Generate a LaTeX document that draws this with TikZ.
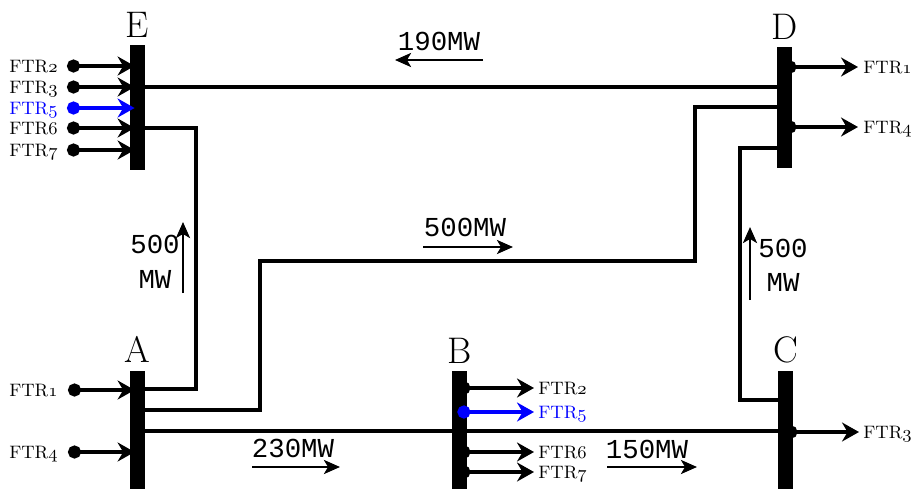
\documentclass[tikz,border=0pt]{standalone}
\usepackage{fontspec}
\usetikzlibrary{arrows.meta,calc}
\newfontfamily\mwfont{Liberation Mono}
\newcommand{\osn}[1]{{\usefont{OML}{cmm}{m}{it}#1}}
\tikzset{
  bus/.style={fill=black, inner sep=0pt, minimum width=7.5pt},
  busname/.style={font=\fontsize{18.5}{20}\selectfont, inner sep=0pt, label distance=3.5pt},
  link/.style={line width=2pt},
  ftrlab/.style={font=\fontsize{9}{10}\selectfont, inner sep=0pt, text height=6.2pt, text depth=0pt},
  ftrarrow/.style={line width=2pt, {Circle[length=6.5pt]}-{Stealth[length=8.5pt,width=9.5pt,inset=2.8pt]}},
  mw/.style={font=\mwfont\fontsize{13.7}{15}\selectfont, inner sep=0pt, anchor=base},
  flow/.style={line width=1.3pt, -{Stealth[length=8pt,width=7pt,inset=2pt]}},
}

\begin{document}
\begin{tikzpicture}[x=0.5pt, y=-0.5pt]
  \useasboundingbox (0,0) rectangle (911,488);
  % buses
  \node[bus, minimum height=62.5pt, label={[busname]above:E}] (E) at (137.5,107.5) {};
  \node[bus, minimum height=60.5pt, label={[busname]above:D}] (D) at (784.5,107.5) {};
  \node[bus, minimum height=59pt, label={[busname]above:A}] (A) at (137.5,429.5) {};
  \node[bus, minimum height=59pt, label={[busname]above:B}] (B) at (459.5,430) {};
  \node[bus, minimum height=59pt, label={[busname]above:C}] (C) at (785.5,430) {};
  % lines between buses
  \draw[link] (E.east |- 0,87) -- (D.west |- 0,87);
  \draw[link] (E.east |- 0,128) -- (196,128) -- (196,389) -- (A.east |- 0,389);
  \draw[link] (A.east |- 0,410) -- (260,410) -- (260,261) -- (695,261) -- (695,107) -- (D.west |- 0,107);
  \draw[link] (D.west |- 0,148) -- (740,148) -- (740,400) -- (C.west |- 0,400);
  \draw[link] (A.east |- 0,431) -- (C.west |- 0,431);
  % FTRs into E and A
  \foreach \y/\n/\col in {66/2/black,87/3/black,108/5/blue,128/6/black,150/7/black}{
    \node[ftrlab, anchor=east, \col] (E\n) at (58,\y) {FTR\osn{\n}};
    \draw[ftrarrow, \col] ($(E\n.east)+(9,0)$) -- ($(E\n -| E.west)+(5,0)$);
  }
  \foreach \y/\n in {390/1,452/4}{
    \node[ftrlab, anchor=east] (A\n) at (58,\y) {FTR\osn{\n}};
    \draw[ftrarrow] ($(A\n.east)+(10,0)$) -- ($(A\n -| A.west)+(5,0)$);
  }
  % FTRs out of D, B and C
  \foreach \y/\n in {67/1,127/4}{
    \node[ftrlab, anchor=west] (D\n) at (863,\y) {FTR\osn{\n}};
    \draw[ftrarrow] ($(D\n -| D.east)+(-9,0)$) -- ($(D\n.west)+(-5,0)$);
  }
  \foreach \y/\n/\col in {388/2/black,412/5/blue,452/6/black,472/7/black}{
    \node[ftrlab, anchor=west, \col] (B\n) at (538,\y) {FTR\osn{\n}};
    \draw[ftrarrow, \col] ($(B\n -| B.east)+(-10,0)$) -- ($(B\n.west)+(-4,0)$);
  }
  \node[ftrlab, anchor=west] (C3) at (863,432) {FTR\osn{3}};
  \draw[ftrarrow] ($(C3 -| C.east)+(-9,0)$) -- ($(C3.west)+(-4,0)$);
  % flows
  \node[mw] (f190) at (439,50) {190MW};
  \draw[flow] (483,60) -- (395,60);
  \node[mw] (f500ad) at (465,236) {500MW};
  \draw[flow] (423,247) -- (513,247);
  \node[mw] (f500ea) at (155,253) {500};
  \node[mw] (mwea) at (155,288) {MW};
  \draw[flow] (183,293) -- (183,222);
  \node[mw] (f500dc) at (783,257) {500};
  \node[mw] (mwdc) at (783,291) {MW};
  \draw[flow] (750,300) -- (750,227);
  \node[mw] (f230) at (293,457) {230MW};
  \draw[flow] (252,467) -- (340,467);
  \node[mw] (f150) at (647,458) {150MW};
  \draw[flow] (607,467) -- (697,467);
\end{tikzpicture}
\end{document}
